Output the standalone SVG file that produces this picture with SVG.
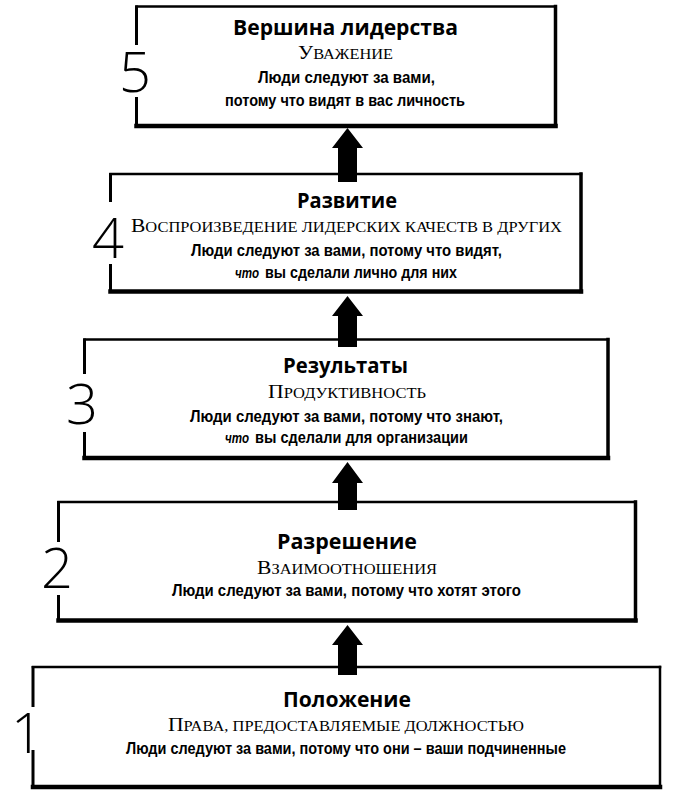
<svg xmlns="http://www.w3.org/2000/svg" width="677" height="794" viewBox="0 0 677 794">
<style>
.t{font-family:"Open Sans","Noto Sans","DejaVu Sans",sans-serif;font-weight:700;font-size:21px;text-anchor:middle;fill:#000}
.s{font-family:"Liberation Serif","DejaVu Serif",serif;font-size:19px;text-anchor:middle;fill:#000}
.sc{font-size:14.5px;text-transform:uppercase}
.b{font-family:"Liberation Sans",Arial,sans-serif;font-weight:700;font-size:17px;text-anchor:middle;fill:#000}
.bs{text-anchor:start}
.i{font-style:italic;font-size:15.5px}
.n{font-family:"Open Sans","Noto Sans","DejaVu Sans",sans-serif;font-weight:300;font-size:56px;text-anchor:middle;fill:#000}
.bt{stroke:#000;stroke-width:2.5;fill:none;stroke-linecap:square}
.br{stroke:#000;stroke-width:3.5;fill:none;stroke-linecap:square}
.bb{stroke:#000;stroke-width:4.5;fill:none;stroke-linecap:square}
.bl{stroke:#000;stroke-width:3;fill:none;stroke-linecap:butt}
.arrow{fill:#000}
</style>
<rect width="677" height="794" fill="#fff"/>

<g id="level5">
<path class="bt" d="M136.5,6.5 H555.5"/>
<path class="br" d="M555.5,6.5 V126"/>
<path class="bb" d="M136.5,126 H555.5"/>
<path class="bl" d="M136.5,5.5 V45 M136.5,97 V127"/>
<text class="n" x="135" y="92">5</text>
<text class="t" x="345.5" y="35" textLength="225" lengthAdjust="spacingAndGlyphs">Вершина лидерства</text>
<text class="s" x="345.5" y="59" textLength="95" lengthAdjust="spacingAndGlyphs">У<tspan class="sc">важение</tspan></text>
<text class="b" x="346.5" y="83" textLength="177" lengthAdjust="spacingAndGlyphs">Люди следуют за вами,</text>
<text class="b" x="345" y="106" textLength="240" lengthAdjust="spacingAndGlyphs">потому что видят в вас личность</text>
</g>

<g id="level4">
<path class="bt" d="M110.5,174 H581"/>
<path class="br" d="M581,174 V291.5"/>
<path class="bb" d="M110.5,291.5 H581"/>
<path class="bl" d="M110.5,173 V202 M110.5,264 V292.5"/>
<text class="n" x="108" y="258">4</text>
<text class="t" x="347" y="208" textLength="100" lengthAdjust="spacingAndGlyphs">Развитие</text>
<text class="s" x="346.5" y="232" textLength="431" lengthAdjust="spacingAndGlyphs">В<tspan class="sc">оспроизведение лидерских качеств в других</tspan></text>
<text class="b" x="346.5" y="256" textLength="311" lengthAdjust="spacingAndGlyphs">Люди следуют за вами, потому что видят,</text>
<text class="b bs i" x="235" y="278" textLength="24" lengthAdjust="spacingAndGlyphs">что</text>
<text class="b bs" x="265" y="278" textLength="192" lengthAdjust="spacingAndGlyphs">вы сделали лично для них</text>
</g>

<g id="level3">
<path class="bt" d="M84.5,339.5 H608"/>
<path class="br" d="M608,339.5 V458"/>
<path class="bb" d="M84.5,458 H608"/>
<path class="bl" d="M84.5,338.5 V374 M84.5,432 V459"/>
<text class="n" x="82" y="424">3</text>
<text class="t" x="345.5" y="373" textLength="125" lengthAdjust="spacingAndGlyphs">Результаты</text>
<text class="s" x="347" y="398" textLength="158" lengthAdjust="spacingAndGlyphs">П<tspan class="sc">родуктивность</tspan></text>
<text class="b" x="346.5" y="422" textLength="313" lengthAdjust="spacingAndGlyphs">Люди следуют за вами, потому что знают,</text>
<text class="b bs i" x="225" y="443" textLength="24" lengthAdjust="spacingAndGlyphs">что</text>
<text class="b bs" x="255" y="443" textLength="213" lengthAdjust="spacingAndGlyphs">вы сделали для организации</text>
</g>

<g id="level2">
<path class="bt" d="M58.5,502 H635.5"/>
<path class="br" d="M635.5,502 V620.5"/>
<path class="bb" d="M58.5,620.5 H635.5"/>
<path class="bl" d="M58.5,501 V542 M58.5,595 V621.5"/>
<text class="n" x="57" y="588">2</text>
<text class="t" x="347" y="549" textLength="140" lengthAdjust="spacingAndGlyphs">Разрешение</text>
<text class="s" x="347" y="574" textLength="180" lengthAdjust="spacingAndGlyphs">В<tspan class="sc">заимоотношения</tspan></text>
<text class="b" x="346.5" y="596" textLength="349" lengthAdjust="spacingAndGlyphs">Люди следуют за вами, потому что хотят этого</text>
</g>

<g id="level1">
<path class="bt" d="M33,667 H660"/>
<path class="bt" d="M660,667 V787"/>
<path class="bb" d="M33,787 H660"/>
<path class="bl" d="M33,666 V707 M33,750 V788"/>
<text class="n" x="27" y="753">1</text>
<text class="t" x="347" y="707" textLength="128" lengthAdjust="spacingAndGlyphs">Положение</text>
<text class="s" x="346" y="731" textLength="356" lengthAdjust="spacingAndGlyphs">П<tspan class="sc">рава, предоставляемые должностью</tspan></text>
<text class="b" x="346" y="754" textLength="440" lengthAdjust="spacingAndGlyphs">Люди следуют за вами, потому что они – ваши подчиненные</text>
</g>

<g id="connectors">
<polygon class="arrow" points="347.5,128 363,148 357,148 357,182 338,182 338,148 332,148"/>
<polygon class="arrow" points="347.5,296 363,316 357,316 357,347 338,347 338,316 332,316"/>
<polygon class="arrow" points="347.5,462 363,483 357,483 357,510 338,510 338,483 332,483"/>
<polygon class="arrow" points="347.5,625 363,645 357,645 357,675 338,675 338,645 332,645"/>
</g>
</svg>
